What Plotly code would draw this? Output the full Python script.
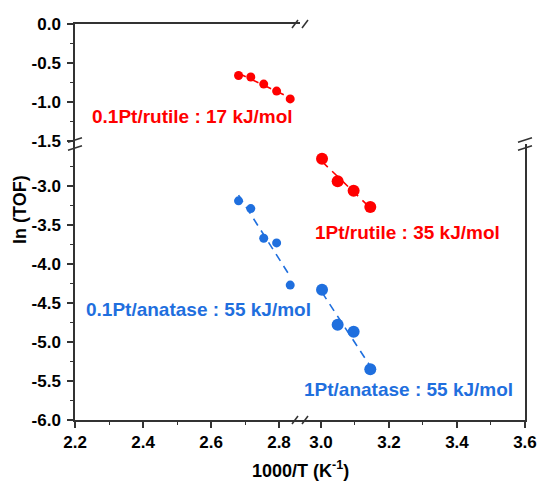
import numpy as np
import plotly.graph_objects as go

# ---------------- data ----------------
x_01 = [2.681, 2.717, 2.755, 2.793, 2.833]          # 1000/T for 0.1Pt samples
y_01_rutile = [-0.66, -0.68, -0.77, -0.86, -0.96]
y_01_anatase = [-3.19, -3.29, -3.67, -3.73, -4.27]
x_1 = [3.003, 3.049, 3.096, 3.145]                  # 1000/T for 1Pt samples
y_1_rutile = [-2.65, -2.94, -3.06, -3.27]
y_1_anatase = [-4.33, -4.78, -4.87, -5.35]

x_ticks_left = [2.2, 2.4, 2.6, 2.8]
x_ticks_right = [3.0, 3.2, 3.4, 3.6]
y_ticks_top = [0.0, -0.5, -1.0, -1.5]
y_ticks_bottom = [-3.0, -3.5, -4.0, -4.5, -5.0, -5.5, -6.0]
y_minor_top = [-0.25, -0.75, -1.25]
y_minor_bottom = [-2.75, -3.25, -3.75, -4.25, -4.75, -5.25, -5.75]

labels = ["0.1Pt/rutile : 17 kJ/mol", "1Pt/rutile : 35 kJ/mol",
          "0.1Pt/anatase : 55 kJ/mol", "1Pt/anatase : 55 kJ/mol"]

RED = "#FF0000"
BLUE = "#1F6FDE"
AX = "#333333"
FONT = "Liberation Sans, Arial, sans-serif"

# ---------------- geometry (pixels) ----------------
W, H = 539, 482
L, R, T, B = 75, 525, 24, 420
XBRK, YBRK = 300, 144
fx = lambda px: (px - L) / (R - L)
fy = lambda py: (B - py) / (B - T)


def fit(xs, ys):
    p = np.polyfit(xs, ys, 1)
    xx = np.array([min(xs), max(xs)])
    return xx, np.polyval(p, xx)


fig = go.Figure()

series = [
    (x_01, y_01_rutile, RED, 9, "x3", "y3"),
    (x_01, y_01_anatase, BLUE, 9, "x", "y"),
    (x_1, y_1_rutile, RED, 12, "x2", "y2"),
    (x_1, y_1_anatase, BLUE, 12, "x2", "y2"),
]
for xs, ys, c, ms, xa, ya in series:
    fx_, fy_ = fit(xs, ys)
    fig.add_trace(go.Scatter(x=fx_, y=fy_, mode="lines", xaxis=xa, yaxis=ya,
                             line=dict(color=c, width=1.6, dash="8px,6px"),
                             showlegend=False, hoverinfo="skip"))
for xs, ys, c, ms, xa, ya in series:
    fig.add_trace(go.Scatter(x=xs, y=ys, mode="markers", xaxis=xa, yaxis=ya,
                             marker=dict(color=c, size=ms), showlegend=False))

# ---------------- axes ----------------
ppu_x = 340.0
ppu_y = 78.0
xl_range = [2.2 - 0.0001, 2.2 + (XBRK - L) / ppu_x]
xr_range = [3.0 - (321 - XBRK) / ppu_x, 3.6 + 0.0001]
yt_range = [-(YBRK - T) / ppu_y, 0.0 + 0.0001]
yb_range = [-6.0 - 0.0001, -6.0 + (B - YBRK) / ppu_y]
split = fy(YBRK)

base = dict(showline=True, linecolor=AX, linewidth=1.5, zeroline=False,
            showgrid=False, automargin=False,
            tickfont=dict(family=FONT, size=17, color="black", weight="bold"))
tick_style = dict(ticks="outside", ticklen=6, tickwidth=1.5, tickcolor=AX)
minor_style = dict(ticks="outside", ticklen=3.5, tickwidth=1.2, tickcolor=AX)

fig.update_layout(
    xaxis=dict(base, **tick_style, domain=[0, fx(XBRK)], anchor="y", range=xl_range,
               tickmode="array", tickvals=x_ticks_left,
               ticktext=[f"{v:.1f}" for v in x_ticks_left],
               minor=dict(minor_style, tickmode="array", tickvals=[2.3, 2.5, 2.7])),
    xaxis2=dict(base, **tick_style, domain=[fx(XBRK), 1], anchor="y2", range=xr_range,
                tickmode="array", tickvals=x_ticks_right,
                ticktext=[f"{v:.1f}" for v in x_ticks_right],
                minor=dict(minor_style, tickmode="array", tickvals=[3.1, 3.3, 3.5])),
    xaxis3=dict(base, domain=[0, fx(XBRK)], anchor="y3", side="top", range=xl_range,
                showticklabels=False, ticks=""),
    xaxis4=dict(base, domain=[fx(XBRK), 1], anchor="y4", side="top", range=xr_range,
                showticklabels=False, ticks=""),
    yaxis=dict(base, **tick_style, domain=[0, split], anchor="x", range=yb_range,
               tickmode="array", tickvals=y_ticks_bottom, ticklabelstandoff=3,
               ticktext=[f"{v:.1f}" for v in y_ticks_bottom],
               minor=dict(minor_style, tickmode="array", tickvals=y_minor_bottom)),
    yaxis2=dict(base, domain=[0, split], anchor="x2", side="right", range=yb_range,
                showticklabels=False, ticks=""),
    yaxis3=dict(base, **tick_style, domain=[split, 1], anchor="x3", range=yt_range,
                tickmode="array", tickvals=y_ticks_top, ticklabelstandoff=3,
                ticktext=[f"{v:.1f}" for v in y_ticks_top],
                minor=dict(minor_style, tickmode="array", tickvals=y_minor_top)),
    yaxis4=dict(base, domain=[split, 1], anchor="x4", side="right", range=yt_range,
                showticklabels=False, ticks=""),
)

# ---------------- annotations ----------------
ann_font = lambda c: dict(family=FONT, size=19, color=c, weight="bold")
anns = [
    dict(text=labels[0], x=2.244, y=-1.19, xref="x3", yref="y3", font=ann_font(RED)),
    dict(text=labels[1], x=2.976, y=-3.60, xref="x2", yref="y2", font=ann_font(RED)),
    dict(text=labels[2], x=2.226, y=-4.58, xref="x", yref="y", font=ann_font(BLUE)),
    dict(text=labels[3], x=2.944, y=-5.615, xref="x2", yref="y2", font=ann_font(BLUE)),
]
for a in anns:
    fig.add_annotation(**a, xanchor="left", yanchor="middle", showarrow=False)

title_font = dict(family=FONT, size=18, color="black", weight="bold")
fig.add_annotation(text="ln (TOF)", x=fx(20), y=fy(210), xref="paper", yref="paper",
                   textangle=-90, showarrow=False, font=title_font,
                   xanchor="center", yanchor="middle")
fig.add_annotation(text="1000/T (K<sup>-1</sup>)", x=fx(300), y=fy(469), xref="paper",
                   yref="paper", showarrow=False, font=title_font,
                   xanchor="center", yanchor="middle")

# ---------------- break marks ----------------
shapes = []
for py in (T, B):
    for cx in (XBRK - 5, XBRK + 5):
        shapes.append(dict(type="line", xref="paper", yref="paper",
                           x0=fx(cx - 3), y0=fy(py + 4), x1=fx(cx + 3), y1=fy(py - 4),
                           line=dict(color=AX, width=1.5)))
for px in (L, R):
    for cy in (YBRK - 4, YBRK + 4):
        shapes.append(dict(type="line", xref="paper", yref="paper",
                           x0=fx(px - 7), y0=fy(cy + 2.3), x1=fx(px + 7), y1=fy(cy - 2.3),
                           line=dict(color=AX, width=1.5)))
fig.update_layout(shapes=shapes)

fig.update_layout(
    width=W, height=H, autosize=False,
    margin=dict(l=L, r=W - R, t=T, b=H - B, autoexpand=False),
    paper_bgcolor="white", plot_bgcolor="white",
    font=dict(family=FONT),
)

fig.write_html("out.html", config={"displayModeBar": False},
               post_script="document.body.style.margin='0';document.body.style.overflow='hidden';")
